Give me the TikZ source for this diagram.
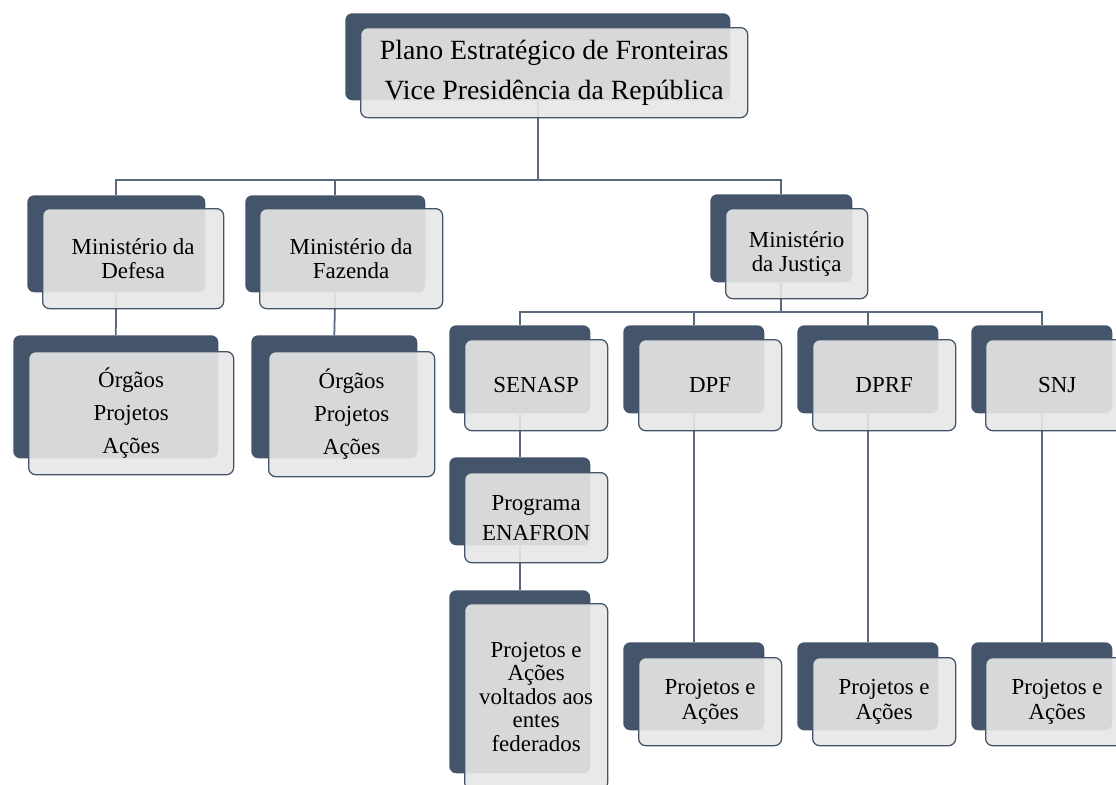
\documentclass[tikz,border=0pt]{standalone}
\usepackage{fontspec}
\setmainfont{Liberation Serif}
\usepackage{tikz}
\usetikzlibrary{backgrounds}
\definecolor{slate}{RGB}{68, 84, 106}
\definecolor{pale}{RGB}{231, 231, 231}
\definecolor{wire}{RGB}{90, 104, 125}

\begin{document}
\begin{tikzpicture}[x=0.025cm, y=-0.025cm,
  backcard/.style 2 args={fill=slate, rounded corners=5pt, anchor=north west, inner sep=0,
    minimum width=#1*0.025cm, minimum height=#2*0.025cm},
  frontcard/.style 2 args={draw=slate, line width=0.9pt, fill=pale, fill opacity=0.9,
    text opacity=1, rounded corners=5pt, anchor=north west, inner sep=0, align=center,
    minimum width=#1*0.025cm, minimum height=#2*0.025cm,
    font=\fontsize{16.3}{17.5}\selectfont},
  link/.style={draw=wire, line width=1.25pt}]

  \useasboundingbox (0,0) rectangle (1116,784);
  \clip (0,0) rectangle (1116,784);

  % topo
  \node[backcard={385}{87}] (plano-b) at (345,13) {};
  \node[frontcard={387}{90}, font=\fontsize{19.8}{28.4}\selectfont] (plano) at (360,27)
    {Plano Estratégico de Fronteiras\\Vice Presidência da República};

  % ministerios
  \node[backcard={178}{97}] (defesa-b) at (27,195) {};
  \node[frontcard={181}{100}, font=\fontsize{16.3}{17.1}\selectfont] (defesa) at (42,208)
    {Ministério da\\Defesa};
  \node[backcard={180}{97}] (fazenda-b) at (245,195) {};
  \node[frontcard={183}{100}, font=\fontsize{16.3}{17.1}\selectfont] (fazenda) at (259,208)
    {Ministério da\\Fazenda};
  \node[backcard={142}{88}] (justica-b) at (710,194) {};
  \node[frontcard={142}{90}, font=\fontsize{16.3}{17.1}\selectfont] (justica) at (725,208)
    {Ministério\\da Justiça};

  % orgaos
  \node[backcard={205}{123}] (orgdef-b) at (13,335) {};
  \node[frontcard={205}{123}, font=\fontsize{16.3}{23.5}\selectfont] (orgdef) at (28,351)
    {Órgãos\\Projetos\\Ações};
  \node[backcard={166}{123}] (orgfaz-b) at (251,335) {};
  \node[frontcard={166}{125}, font=\fontsize{16.3}{23.5}\selectfont] (orgfaz) at (268,351)
    {Órgãos\\Projetos\\Ações};

  % justica
  \node[backcard={141}{88}] (senasp-b) at (449,325) {};
  \node[frontcard={143}{91}] (senasp) at (464,339) {SENASP};
  \node[backcard={141}{88}] (dpf-b) at (623,325) {};
  \node[frontcard={143}{91}] (dpf) at (638,339) {DPF};
  \node[backcard={141}{88}] (dprf-b) at (797,325) {};
  \node[frontcard={143}{91}] (dprf) at (812,339) {DPRF};
  \node[backcard={141}{88}] (snj-b) at (971,325) {};
  \node[frontcard={143}{91}] (snj) at (985,339) {SNJ};

  \node[backcard={141}{88}] (enafron-b) at (449,457) {};
  \node[frontcard={143}{90}, font=\fontsize{16.3}{21.3}\selectfont] (enafron) at (464,472)
    {Programa\\ENAFRON};
  \node[backcard={141}{183}] (entes-b) at (449,590) {};
  \node[frontcard={143}{186}, font=\fontsize{16.3}{16.7}\selectfont] (entes) at (464,603)
    {Projetos e\\Ações\\voltados aos\\entes\\federados};

  \node[backcard={141}{88}] (padpf-b) at (623,642) {};
  \node[frontcard={143}{88}] (padpf) at (638,657) {Projetos e\\Ações};
  \node[backcard={141}{88}] (padprf-b) at (797,642) {};
  \node[frontcard={143}{88}] (padprf) at (812,657) {Projetos e\\Ações};
  \node[backcard={141}{88}] (pasnj-b) at (971,642) {};
  \node[frontcard={143}{88}] (pasnj) at (985,657) {Projetos e\\Ações};

  % ligacoes
  \coordinate (bus1) at (0,180);
  \coordinate (bus2) at (0,312);
  \begin{scope}[on background layer]
    \fill[white] (0,0) rectangle (1116,784);
    \draw[link] (plano-b.south) -- (plano-b.south |- bus1) -| (defesa-b.north);
    \draw[link] (plano-b.south |- bus1) -| (fazenda-b.north);
    \draw[link] (plano-b.south |- bus1) -| (justica-b.north);
    \draw[link] (defesa-b.south) -- (orgdef-b.north);
    \draw[link] (fazenda-b.south) -- (orgfaz-b.north);
    \draw[link] (justica-b.south) -- (justica-b.south |- bus2) -| (senasp-b.north);
    \draw[link] (justica-b.south |- bus2) -| (dpf-b.north);
    \draw[link] (justica-b.south |- bus2) -| (dprf-b.north);
    \draw[link] (justica-b.south |- bus2) -| (snj-b.north);
    \draw[link] (senasp-b.south) -- (enafron-b.north);
    \draw[link] (enafron-b.south) -- (entes-b.north);
    \draw[link] (dpf-b.south) -- (padpf-b.north);
    \draw[link] (dprf-b.south) -- (padprf-b.north);
    \draw[link] (snj-b.south) -- (pasnj-b.north);
  \end{scope}

\end{tikzpicture}
\end{document}
